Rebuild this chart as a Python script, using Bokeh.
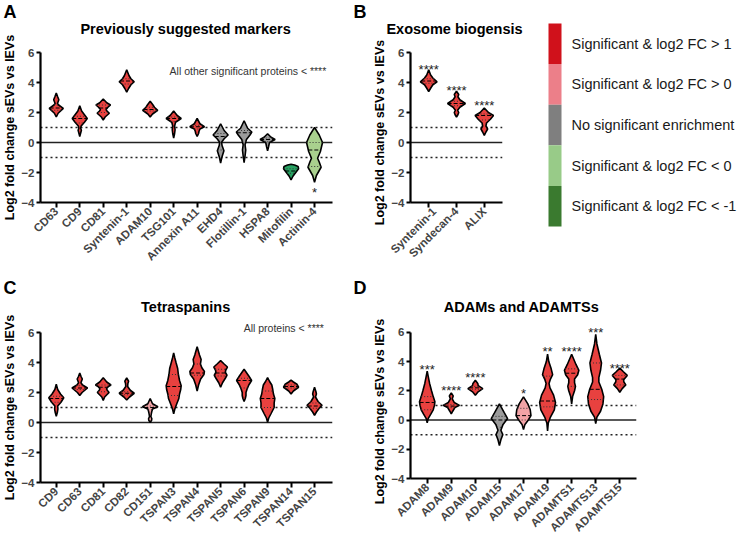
import numpy as np
from math import pi
from bokeh.plotting import figure
from bokeh.layouts import column, row
from bokeh.models import Range1d, FixedTicker, Span, ColumnDataSource
from bokeh.core.properties import value
from bokeh.embed import file_html
from bokeh.resources import INLINE

FONT = "Liberation Sans"

# ---------------- data ----------------
# Panel A
a_names = ["CD63", "CD9", "CD81", "Syntenin-1", "ADAM10", "TSG101", "Annexin A11",
           "EHD4", "Flotillin-1", "HSPA8", "Mitofilin", "Actinin-4"]
a_groups = ["up1", "up1", "up1", "up1", "up1", "up1", "up1", "ns", "ns", "ns", "dn1", "dn0"]
a_profiles = [
    [(1.7, 0), (1.95, 0.08), (2.28, 0.30), (2.5, 0.10), (2.6, 0.05), (2.85, 0.11), (3.05, 0.06), (3.3, 0)],
    [(0.4, 0), (0.7, 0.05), (0.82, 0.07), (0.95, 0.04), (1.1, 0.06), (1.35, 0.2), (1.6, 0.32), (1.85, 0.2), (2.1, 0.08), (2.45, 0)],
    [(1.5, 0), (1.7, 0.08), (1.95, 0.26), (2.1, 0.16), (2.2, 0.12), (2.35, 0.2), (2.5, 0.31), (2.65, 0.15), (2.9, 0)],
    [(3.35, 0), (3.6, 0.08), (3.85, 0.18), (4.05, 0.32), (4.25, 0.18), (4.45, 0.1), (4.85, 0)],
    [(1.7, 0), (1.9, 0.1), (2.15, 0.32), (2.35, 0.18), (2.5, 0.12), (2.75, 0)],
    [(0.3, 0), (0.6, 0.04), (0.85, 0.06), (1.1, 0.04), (1.35, 0.08), (1.6, 0.32), (1.8, 0.15), (2.1, 0)],
    [(0.4, 0), (0.6, 0.06), (0.75, 0.08), (0.9, 0.12), (1.05, 0.31), (1.25, 0.12), (1.6, 0)],
    [(-1.38, 0), (-1.0, 0.05), (-0.55, 0.14), (-0.2, 0.06), (0.02, 0.04), (0.25, 0.15), (0.5, 0.32), (0.8, 0.15), (1.25, 0)],
    [(-1.35, 0), (-0.9, 0.04), (-0.5, 0.07), (-0.15, 0.04), (0.2, 0.1), (0.5, 0.25), (0.7, 0.33), (0.95, 0.15), (1.45, 0)],
    [(-0.55, 0), (-0.3, 0.04), (0.0, 0.08), (0.2, 0.32), (0.35, 0.15), (0.58, 0)],
    [(-2.5, 0), (-2.25, 0.08), (-2.0, 0.2), (-1.75, 0.32), (-1.6, 0.3), (-1.5, 0.15), (-1.45, 0)],
    [(-2.65, 0), (-2.2, 0.08), (-1.65, 0.28), (-1.3, 0.2), (-1.05, 0.13), (-0.6, 0.25), (0.0, 0.34), (0.5, 0.2), (1.0, 0)],
]
a_median = [2.3, 1.6, 2.3, 4.1, 2.2, 1.6, 1.05, 0.4, 0.65, 0.2, -1.9, -0.5]
a_q1 = [2.15, 1.3, 2.0, 3.9, 2.1, 1.4, 0.9, -0.5, 0.1, 0.05, -2.05, -1.6]
a_q3 = [2.5, 1.75, 2.5, 4.25, 2.35, 1.7, 1.15, 0.6, 0.8, 0.3, -1.75, 0.0]
a_stars = ["", "", "", "", "", "", "", "", "", "", "", "*"]
a_star_y = [0, 0, 0, 0, 0, 0, 0, 0, 0, 0, 0, -3.13]

# Panel B
b_names = ["Syntenin-1", "Syndecan-4", "ALIX"]
b_groups = ["up1", "up1", "up1"]
b_profiles = [
    [(3.4, 0), (3.65, 0.08), (3.85, 0.15), (4.05, 0.30), (4.3, 0.15), (4.5, 0.07), (4.85, 0)],
    [(1.7, 0), (1.85, 0.05), (2.0, 0.08), (2.15, 0.04), (2.35, 0.12), (2.6, 0.32), (2.85, 0.12), (3.05, 0.05), (3.2, 0.08), (3.42, 0)],
    [(0.47, 0), (0.7, 0.06), (0.9, 0.12), (1.1, 0.06), (1.3, 0.08), (1.55, 0.22), (1.8, 0.33), (2.0, 0.15), (2.3, 0)],
]
b_median = [4.1, 2.6, 1.8]
b_q1 = [3.95, 2.45, 1.5]
b_q3 = [4.25, 2.75, 1.9]
b_stars = ["****", "****", "****"]
b_star_y = [5.07, 3.69, 2.69]

# Panel C
c_names = ["CD9", "CD63", "CD81", "CD82", "CD151", "TSPAN3", "TSPAN4", "TSPAN5",
           "TSPAN6", "TSPAN9", "TSPAN14", "TSPAN15"]
c_groups = ["up1", "up1", "up1", "up1", "up0", "up1", "up1", "up1", "up1", "up1", "up1", "up1"]
c_profiles = [
    [(0.42, 0), (0.7, 0.05), (0.9, 0.07), (1.1, 0.06), (1.35, 0.2), (1.65, 0.32), (1.9, 0.18), (2.2, 0.06), (2.55, 0)],
    [(1.8, 0), (2.0, 0.1), (2.3, 0.33), (2.5, 0.12), (2.65, 0.05), (2.9, 0.11), (3.05, 0.06), (3.3, 0)],
    [(1.47, 0), (1.7, 0.06), (2.0, 0.25), (2.15, 0.17), (2.25, 0.14), (2.4, 0.22), (2.5, 0.33), (2.7, 0.15), (2.98, 0)],
    [(1.5, 0), (1.7, 0.12), (1.95, 0.32), (2.15, 0.15), (2.4, 0.04), (2.6, 0.05), (2.75, 0.08), (2.98, 0)],
    [(0.0, 0), (0.15, 0.06), (0.25, 0.07), (0.4, 0.03), (0.6, 0.05), (0.75, 0.07), (0.9, 0.1), (1.05, 0.33), (1.25, 0.1), (1.6, 0)],
    [(0.58, 0), (0.9, 0.05), (1.2, 0.12), (1.6, 0.22), (1.9, 0.25), (2.2, 0.3), (2.45, 0.32), (2.8, 0.25), (3.2, 0.2), (3.6, 0.17), (4.0, 0.1), (4.3, 0.05), (4.64, 0)],
    [(2.1, 0), (2.5, 0.06), (2.9, 0.15), (3.2, 0.29), (3.4, 0.31), (3.65, 0.2), (3.9, 0.14), (4.2, 0.17), (4.5, 0.1), (5.05, 0)],
    [(2.35, 0), (2.65, 0.08), (2.95, 0.2), (3.15, 0.27), (3.35, 0.2), (3.5, 0.22), (3.7, 0.29), (3.9, 0.15), (4.12, 0)],
    [(1.4, 0), (1.6, 0.05), (1.8, 0.08), (2.0, 0.08), (2.2, 0.12), (2.5, 0.2), (2.8, 0.32), (3.1, 0.2), (3.55, 0)],
    [(0.02, 0), (0.3, 0.05), (0.6, 0.15), (1.0, 0.28), (1.3, 0.28), (1.6, 0.31), (1.9, 0.25), (2.2, 0.22), (2.5, 0.18), (2.75, 0.08), (3.0, 0)],
    [(1.9, 0), (2.1, 0.1), (2.35, 0.32), (2.55, 0.25), (2.7, 0.1), (2.82, 0)],
    [(0.47, 0), (0.7, 0.08), (0.95, 0.2), (1.15, 0.32), (1.4, 0.15), (1.7, 0.04), (1.9, 0.08), (2.05, 0.06), (2.35, 0)],
]
c_median = [1.6, 2.3, 2.35, 1.95, 1.0, 2.4, 3.3, 3.3, 2.8, 1.6, 2.4, 1.1]
c_q1 = [1.35, 2.2, 2.05, 1.85, 0.85, 1.8, 3.15, 3.1, 2.3, 1.0, 2.3, 0.95]
c_q3 = [1.75, 2.45, 2.5, 2.05, 1.1, 3.2, 3.9, 3.55, 2.95, 2.1, 2.5, 1.3]
c_stars = [""] * 12
c_star_y = [0] * 12

# Panel D
d_names = ["ADAM8", "ADAM9", "ADAM10", "ADAM15", "ADAM17", "ADAM19", "ADAMTS1", "ADAMTS13", "ADAMTS15"]
d_groups = ["up1", "up1", "up1", "ns", "up0", "up1", "up1", "up1", "up1"]
d_profiles = [
    [(-0.2, 0), (0.1, 0.04), (0.4, 0.15), (0.7, 0.25), (1.0, 0.3), (1.25, 0.32), (1.6, 0.25), (2.0, 0.18), (2.5, 0.1), (3.0, 0.04), (3.35, 0)],
    [(0.42, 0), (0.6, 0.06), (0.85, 0.15), (1.0, 0.34), (1.2, 0.12), (1.45, 0.04), (1.65, 0.08), (1.85, 0)],
    [(1.7, 0), (1.9, 0.1), (2.15, 0.31), (2.35, 0.12), (2.5, 0.1), (2.72, 0)],
    [(-1.75, 0), (-1.35, 0.06), (-1.0, 0.14), (-0.7, 0.06), (-0.3, 0.15), (0.1, 0.34), (0.5, 0.2), (1.1, 0)],
    [(-0.65, 0), (-0.3, 0.06), (0.0, 0.2), (0.3, 0.31), (0.7, 0.28), (1.1, 0.18), (1.58, 0)],
    [(-0.75, 0), (-0.2, 0.03), (0.2, 0.12), (0.7, 0.28), (1.2, 0.33), (1.7, 0.25), (2.2, 0.1), (2.5, 0.06), (2.8, 0.12), (3.1, 0.21), (3.5, 0.15), (4.0, 0.05), (4.5, 0)],
    [(1.1, 0), (1.6, 0.04), (2.0, 0.12), (2.3, 0.16), (2.55, 0.12), (2.8, 0.12), (3.1, 0.25), (3.4, 0.3), (3.8, 0.18), (4.5, 0)],
    [(-0.25, 0), (0.2, 0.05), (0.6, 0.2), (1.1, 0.3), (1.6, 0.33), (2.1, 0.25), (2.6, 0.13), (2.9, 0.13), (3.4, 0.2), (3.9, 0.24), (4.5, 0.15), (5.2, 0.05), (5.85, 0)],
    [(1.9, 0), (2.15, 0.1), (2.4, 0.25), (2.6, 0.17), (2.75, 0.16), (3.05, 0.31), (3.3, 0.15), (3.55, 0)],
]
d_median = [1.2, 0.95, 2.2, 0.0, 0.3, 1.3, 3.2, 2.1, 2.8]
d_q1 = [0.7, 0.85, 2.1, -0.5, 0.0, 0.9, 2.3, 1.4, 2.4]
d_q3 = [1.6, 1.05, 2.3, 0.25, 0.8, 3.0, 3.5, 3.9, 3.05]
d_stars = ["***", "****", "****", "", "*", "**", "****", "***", "****"]
d_star_y = [3.69, 2.24, 3.13, 0, 2.02, 4.91, 4.91, 6.2, 3.76]

y_ticks = [-4, -2, 0, 2, 4, 6]
y_label = "Log2 fold change sEVs vs lEVs"

panel_letters = ["A", "B", "C", "D"]
panel_titles = ["Previously suggested markers", "Exosome biogensis", "Tetraspanins", "ADAMs and ADAMTSs"]
note_a = "All other significant proteins < ****"
note_c = "All proteins < ****"

leg_labels = ["Significant & log2 FC > 1", "Significant & log2 FC > 0",
              "No significant enrichment", "Significant & log2 FC < 0",
              "Significant & log2 FC < -1"]
leg_colors = ["#d0111b", "#ec7f89", "#7f7f7f", "#98cb88", "#3a7a2f"]

FILL = {"up1": "#e8413f", "up0": "#f2a3a6", "ns": "#9b9b9b", "dn0": "#a9d08e", "dn1": "#27a262"}

# ---------------- layout constants (pixels) ----------------
SIDE_A = 18        # strip holding letter + y label, left panels
SIDE_B = 36        # strip holding y label, right panels
INNER = 18         # space between strip and frame (ticks + tick labels)
FW_WIDE, FW_B, FW_D = 296, 96, 230
FH = 159           # frame height (-4 .. 6.6)
W_A = INNER + FW_WIDE + 20
W_B = INNER + FW_B + 38
W_D = INNER + FW_D + 102
ROW_H = 270
T1_H, T2_H = 40, 45
LEG_W = 738 - SIDE_A - W_A - SIDE_B - W_B
YLABEL_SIZE = "12.5px"


def violin_panel(names, groups, profiles, med, q1, q3, stars, star_y,
                 xr, width, height, fw, top):
    p = figure(width=width, height=height, x_range=Range1d(*xr), y_range=Range1d(-4, 6.6),
               output_backend="svg", toolbar_location=None, title=None,
               min_border_left=INNER, min_border_right=width - INNER - fw,
               min_border_top=top, min_border_bottom=height - top - FH)
    p.grid.visible = False
    p.outline_line_color = None

    for loc, dash, lw in [(0, "solid", 1.6), (1, "2 3", 1.5), (-1, "2 3", 1.5)]:
        p.add_layout(Span(location=loc, dimension="width", line_color="#222222",
                          line_width=lw, line_dash=dash, level="underlay"))

    xs, ys, cols = [], [], []
    seg = {"x0": [], "x1": [], "y": []}
    qseg = {"x0": [], "x1": [], "y": []}
    for i, prof in enumerate(profiles):
        yy = np.array([k[0] for k in prof])
        ww = np.array([k[1] for k in prof])
        xs.append(list(i + ww) + list(i - ww[::-1]))
        ys.append(list(yy) + list(yy[::-1]))
        cols.append(FILL[groups[i]])
        h = float(np.interp(med[i], yy, ww))
        seg["x0"].append(i - h); seg["x1"].append(i + h); seg["y"].append(med[i])
        for q in (q1[i], q3[i]):
            h = float(np.interp(q, yy, ww))
            qseg["x0"].append(i - h); qseg["x1"].append(i + h); qseg["y"].append(q)
    p.patches(xs=xs, ys=ys, fill_color=cols, line_color="black", line_width=1.6)
    p.segment(x0="x0", x1="x1", y0="y", y1="y", source=ColumnDataSource(seg),
              line_color="black", line_width=1, line_dash="4 2")
    p.segment(x0="x0", x1="x1", y0="y", y1="y", source=ColumnDataSource(qseg),
              line_color="#333333", line_width=1, line_dash="1 2")

    sx = [i for i, s in enumerate(stars) if s]
    st = [s for s in stars if s]
    sy = [star_y[i] for i, s in enumerate(stars) if s]
    if st:
        p.text(x=sx, y=sy, text=st, text_align="center", text_baseline="middle",
               y_offset=3, text_font=value(FONT), text_font_size="13px",
               text_color="#222222")

    ax = p.yaxis[0]
    ax.ticker = FixedTicker(ticks=y_ticks)
    ax.bounds = (-4, 6)
    ax.major_label_text_font = FONT
    ax.major_label_text_font_size = "11.5px"
    ax.major_label_text_font_style = "bold"
    ax.major_label_standoff = 2
    ax.axis_line_width = 2.2
    ax.major_tick_line_width = 2
    ax.major_tick_out = 4
    ax.major_tick_in = 0
    ax.minor_tick_out = 0
    ax.minor_tick_in = 0

    bx = p.xaxis[0]
    bx.ticker = FixedTicker(ticks=list(range(len(names))))
    bx.major_label_overrides = {i: n for i, n in enumerate(names)}
    bx.major_label_orientation = pi / 4
    bx.major_label_text_font = FONT
    bx.major_label_text_font_size = "11.5px"
    bx.major_label_text_font_style = "bold"
    bx.major_label_standoff = 2
    bx.axis_line_width = 2.2
    bx.major_tick_line_width = 2
    bx.major_tick_out = 5
    bx.major_tick_in = 0
    bx.minor_tick_out = 0
    bx.minor_tick_in = 0
    return p


def text_fig(width, height):
    s = figure(width=width, height=height, x_range=Range1d(0, width), y_range=Range1d(height, 0),
               output_backend="svg", toolbar_location=None, title=None, min_border=0,
               x_axis_location=None, y_axis_location=None)
    s.grid.visible = False
    s.outline_line_color = None
    return s


def add_letter(s, letter, x, y):
    s.text(x=[x], y=[y], text=[letter], text_align="left", text_baseline="middle",
           text_font=value(FONT), text_font_size="18px", text_font_style="bold",
           text_color="black")


def add_ylabel(s, x, y):
    s.text(x=[x], y=[y], text=[y_label], angle=pi / 2, text_align="center",
           text_baseline="middle", text_font=value(FONT), text_font_size=YLABEL_SIZE,
           text_font_style="bold", text_color="black")


def add_title(s, title, cx, cy):
    s.text(x=[cx], y=[cy], text=[title], text_align="center", text_baseline="middle",
           text_font=value(FONT), text_font_size="14.5px", text_font_style="bold",
           text_color="black")


# ---------------- Row 1 ----------------
pA = violin_panel(a_names, a_groups, a_profiles, a_median, a_q1, a_q3, a_stars, a_star_y,
                  (-0.672, 11.765), W_A, ROW_H - T1_H, FW_WIDE, 3)
pA.text(x=[11.5], y=[4.8], text=[note_a], text_align="right",
        text_baseline="middle", text_font=value(FONT), text_font_size="10.5px",
        text_color="#333333")
pB = violin_panel(b_names, b_groups, b_profiles, b_median, b_q1, b_q3, b_stars, b_star_y,
                  (-0.655, 2.655), W_B, ROW_H - T1_H, FW_B, 3)

sA = text_fig(SIDE_A, ROW_H)
add_letter(sA, panel_letters[0], 3, 11.5)
add_ylabel(sA, 9, 127)
tA = text_fig(W_A, T1_H)
add_title(tA, panel_titles[0], INNER + FW_WIDE / 2, 28)

tB = text_fig(SIDE_B + W_B, T1_H)
add_letter(tB, panel_letters[1], 1, 11.5)
add_title(tB, panel_titles[1], SIDE_B + INNER + FW_B / 2, 28)
sB = text_fig(SIDE_B, ROW_H - T1_H)
add_ylabel(sB, 27, 92)

pL = figure(width=LEG_W, height=ROW_H, x_range=Range1d(0, LEG_W),
            y_range=Range1d((ROW_H - 23) / 40.6, -23 / 40.6),
            output_backend="svg", toolbar_location=None, title=None, min_border=0,
            x_axis_location=None, y_axis_location=None)
pL.grid.visible = False
pL.outline_line_color = None
idx = np.arange(len(leg_labels))
pL.quad(left=8, right=21, top=idx, bottom=idx + 1, fill_color=leg_colors, line_color=None)
pL.text(x=31, y=idx + 0.5, text=leg_labels, text_baseline="middle", text_align="left",
        text_font=value(FONT), text_font_size="14.5px", text_color="#1a1a1a")

# ---------------- Row 2 ----------------
pC = violin_panel(c_names, c_groups, c_profiles, c_median, c_q1, c_q3, c_stars, c_star_y,
                  (-0.672, 11.765), W_A, ROW_H - T2_H, FW_WIDE, 8)
pC.text(x=[11.4], y=[6.27], text=[note_c], text_align="right",
        text_baseline="middle", text_font=value(FONT), text_font_size="10.5px",
        text_color="#333333")
pD = violin_panel(d_names, d_groups, d_profiles, d_median, d_q1, d_q3, d_stars, d_star_y,
                  (-0.694, 8.694), W_D, ROW_H - T2_H, FW_D, 8)

sC = text_fig(SIDE_A, ROW_H)
add_letter(sC, panel_letters[2], 3, 17)
add_ylabel(sC, 9, 137)
tC = text_fig(W_A, T2_H)
add_title(tC, panel_titles[2], INNER + FW_WIDE / 2, 36)

tD = text_fig(SIDE_B + W_D, T2_H)
add_letter(tD, panel_letters[3], 1, 17)
add_title(tD, panel_titles[3], SIDE_B + INNER + FW_D / 2, 36)
sD = text_fig(SIDE_B, ROW_H - T2_H)
add_ylabel(sD, 27, 96)

# wrapping each strip in its own column keeps Bokeh from aligning its frame with the panel's
row1 = row(sA, column(tA, pA), column(tB, row(column(sB), column(pB))), pL)
row2 = row(sC, column(tC, pC), column(tD, row(column(sD), column(pD))))
layout = column(row1, row2)
open("out.html", "w").write(file_html(layout, INLINE))
